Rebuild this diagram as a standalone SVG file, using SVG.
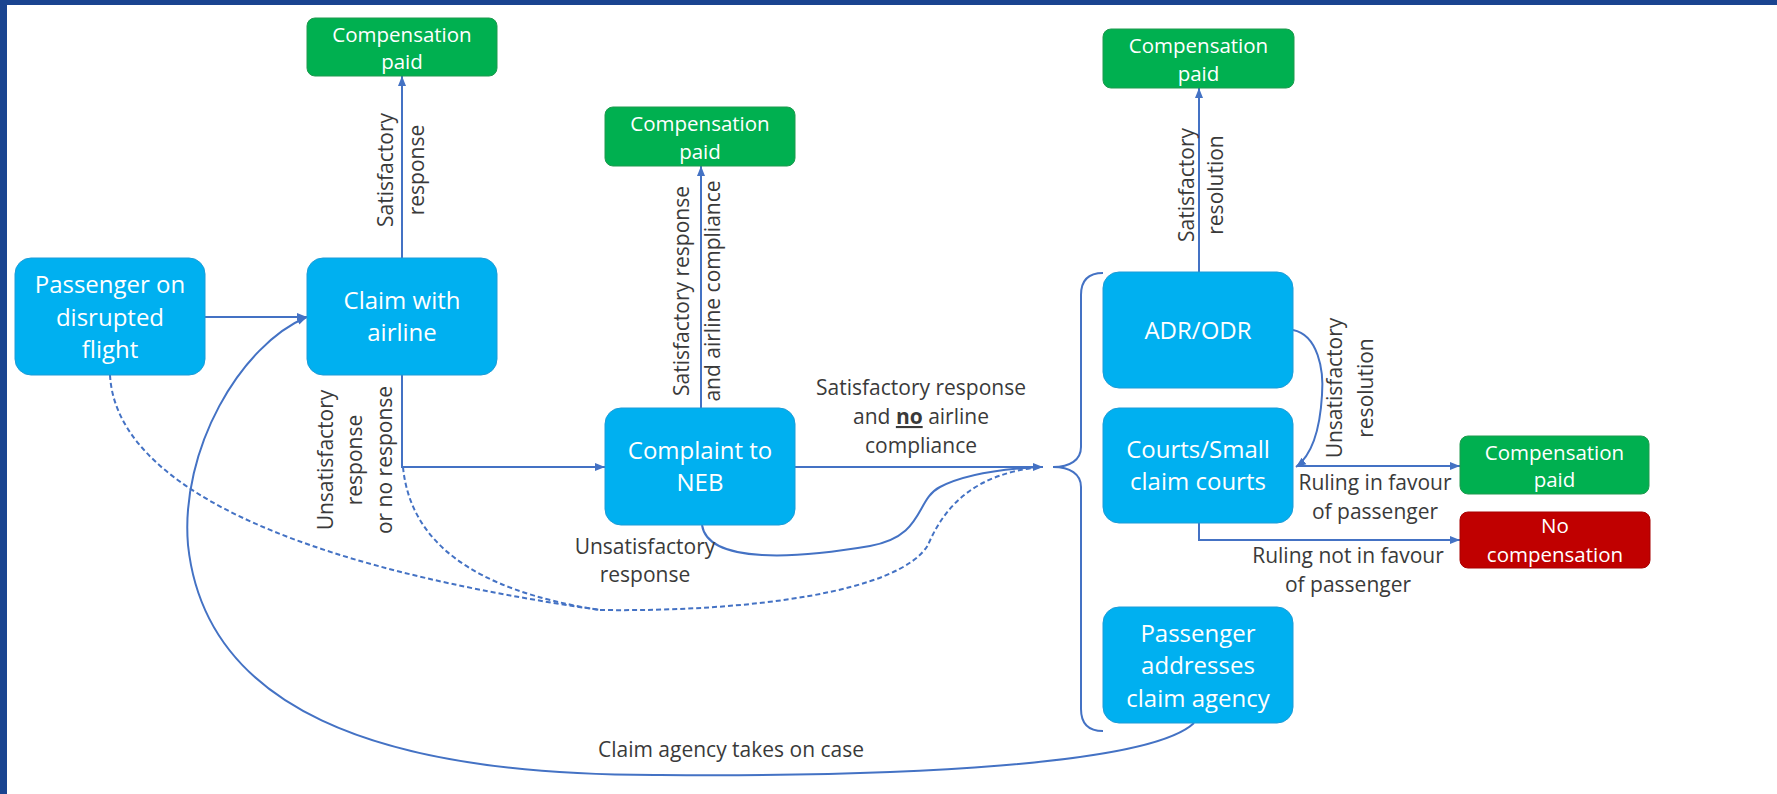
<svg xmlns="http://www.w3.org/2000/svg" width="1777" height="794" viewBox="0 0 1777 794">
<defs>
<style>
.nb{fill:#00B0F0;stroke:#1C9CD8;stroke-width:1}
.ng{fill:#00B050;stroke:#1E9A4E;stroke-width:1}
.nr{fill:#C00000;stroke:#A80000;stroke-width:1}
.tn{font-family:"Open Sans","Noto Sans",sans-serif;font-size:24px;fill:#FFFFFF;text-anchor:middle}
.ts{font-family:"Open Sans","Noto Sans",sans-serif;font-size:20.5px;fill:#FFFFFF;text-anchor:middle}
.tl{font-family:"Open Sans","Noto Sans",sans-serif;font-size:21px;fill:#3A3A3A;text-anchor:middle}
.ln{fill:none;stroke:#4472C4;stroke-width:2}
.dl{fill:none;stroke:#4472C4;stroke-width:2;stroke-dasharray:5 3}
</style>
<marker id="ah" viewBox="0 0 10 10" refX="10" refY="5" markerWidth="10" markerHeight="10" markerUnits="userSpaceOnUse" orient="auto">
<path d="M0,1 L10,5 L0,9 z" fill="#4472C4"/>
</marker>
</defs>
<rect x="0" y="0" width="1777" height="794" fill="#FFFFFF"/>
<rect x="0" y="0" width="1777" height="5" fill="#1A4490"/>
<rect x="0" y="0" width="7" height="794" fill="#1A4490"/>

<g id="connectors">
<path class="ln" d="M205,317 L307,317" marker-end="url(#ah)"/>
<path class="ln" d="M402,258 L402,76" marker-end="url(#ah)"/>
<path class="ln" d="M402,375 L402,467 L605,467" marker-end="url(#ah)"/>
<path class="ln" d="M701,408 L701,166" marker-end="url(#ah)"/>
<path class="ln" d="M795,467 L1043,467" marker-end="url(#ah)"/>
<path class="ln" d="M702,525 C708,565 800,558 870,546 C925,536 915,500 940,487 C965,474 1000,469 1040,467"/>
<path class="dl" d="M110,375 C115,470 250,560 600,610"/>
<path class="dl" d="M403,467 C410,540 470,590 600,610"/>
<path class="dl" d="M600,610 C750,612 900,592 928,545 C945,505 975,474 1040,467"/>
<path class="ln" d="M1293,330 C1318,335 1324,370 1322,395 C1320,430 1312,455 1296,467" marker-end="url(#ah)"/>
<path class="ln" d="M1297,466 L1460,466" marker-end="url(#ah)"/>
<path class="ln" d="M1199,523 L1199,540 L1460,540" marker-end="url(#ah)"/>
<path class="ln" d="M1199,272 L1199,88" marker-end="url(#ah)"/>
<path class="ln" d="M1194,723 C1150,765 900,777 660,775 C370,776 205,705 188,545 C180,450 240,345 307,317" marker-end="url(#ah)"/>
<path class="ln" d="M1103,273 C1088,273 1081,280 1081,295 L1081,447 C1081,460 1070,467 1053,467 C1070,467 1081,474 1081,487 L1081,709 C1081,724 1088,731 1103,731"/>
</g>

<g id="labels">
<g transform="translate(393,170) rotate(-90)"><text class="tl" x="0" y="0">Satisfactory</text></g>
<g transform="translate(424,170) rotate(-90)"><text class="tl" x="0" y="0">response</text></g>
<g transform="translate(333,460) rotate(-90)"><text class="tl" x="0" y="0">Unsatisfactory</text></g>
<g transform="translate(362,460) rotate(-90)"><text class="tl" x="0" y="0">response</text></g>
<g transform="translate(392,460) rotate(-90)"><text class="tl" x="0" y="0">or no response</text></g>
<g transform="translate(689,291) rotate(-90)"><text class="tl" x="0" y="0">Satisfactory response</text></g>
<g transform="translate(720,291) rotate(-90)"><text class="tl" x="0" y="0">and airline compliance</text></g>
<g transform="translate(1194,185) rotate(-90)"><text class="tl" x="0" y="0">Satisfactory</text></g>
<g transform="translate(1223,185) rotate(-90)"><text class="tl" x="0" y="0">resolution</text></g>
<g transform="translate(1342,388) rotate(-90)"><text class="tl" x="0" y="0">Unsatisfactory</text></g>
<g transform="translate(1373,388) rotate(-90)"><text class="tl" x="0" y="0">resolution</text></g>
<text class="tl" x="921" y="395">Satisfactory response</text>
<text class="tl" x="921" y="424">and <tspan font-weight="bold" text-decoration="underline">no</tspan> airline</text>
<text class="tl" x="921" y="453">compliance</text>
<text class="tl" x="645" y="554">Unsatisfactory</text>
<text class="tl" x="645" y="582">response</text>
<text class="tl" x="1375" y="490">Ruling in favour</text>
<text class="tl" x="1375" y="519">of passenger</text>
<text class="tl" x="1348" y="563">Ruling not in favour</text>
<text class="tl" x="1348" y="592">of passenger</text>
<text class="tl" x="731" y="757">Claim agency takes on case</text>
</g>

<g id="passenger">
<rect class="nb" x="15" y="258" width="190" height="117" rx="16"/>
<text class="tn" x="110" y="293">Passenger on</text>
<text class="tn" x="110" y="326">disrupted</text>
<text class="tn" x="110" y="358">flight</text>
</g>
<g id="claim">
<rect class="nb" x="307" y="258" width="190" height="117" rx="16"/>
<text class="tn" x="402" y="309">Claim with</text>
<text class="tn" x="402" y="341">airline</text>
</g>
<g id="comp1">
<rect class="ng" x="307" y="18" width="190" height="58" rx="8"/>
<text class="ts" x="402" y="41.5">Compensation</text>
<text class="ts" x="402" y="69">paid</text>
</g>
<g id="neb">
<rect class="nb" x="605" y="408" width="190" height="117" rx="16"/>
<text class="tn" x="700" y="459">Complaint to</text>
<text class="tn" x="700" y="491">NEB</text>
</g>
<g id="comp2">
<rect class="ng" x="605" y="107" width="190" height="59" rx="8"/>
<text class="ts" x="700" y="131">Compensation</text>
<text class="ts" x="700" y="158.5">paid</text>
</g>
<g id="adr">
<rect class="nb" x="1103" y="272" width="190" height="116" rx="16"/>
<text class="tn" x="1198" y="339">ADR/ODR</text>
</g>
<g id="comp3">
<rect class="ng" x="1103" y="29" width="191" height="59" rx="8"/>
<text class="ts" x="1198.5" y="53">Compensation</text>
<text class="ts" x="1198.5" y="80.5">paid</text>
</g>
<g id="courts">
<rect class="nb" x="1103" y="408" width="190" height="115" rx="16"/>
<text class="tn" x="1198" y="458">Courts/Small</text>
<text class="tn" x="1198" y="490">claim courts</text>
</g>
<g id="comp4">
<rect class="ng" x="1460" y="436" width="189" height="58" rx="8"/>
<text class="ts" x="1554.5" y="459.5">Compensation</text>
<text class="ts" x="1554.5" y="487">paid</text>
</g>
<g id="nocomp">
<rect class="nr" x="1460" y="512" width="190" height="56" rx="8"/>
<text class="ts" x="1555" y="533">No</text>
<text class="ts" x="1555" y="561.5">compensation</text>
</g>
<g id="agency">
<rect class="nb" x="1103" y="607" width="190" height="116" rx="16"/>
<text class="tn" x="1198" y="641.5">Passenger</text>
<text class="tn" x="1198" y="674">addresses</text>
<text class="tn" x="1198" y="706.5">claim agency</text>
</g>
</svg>
